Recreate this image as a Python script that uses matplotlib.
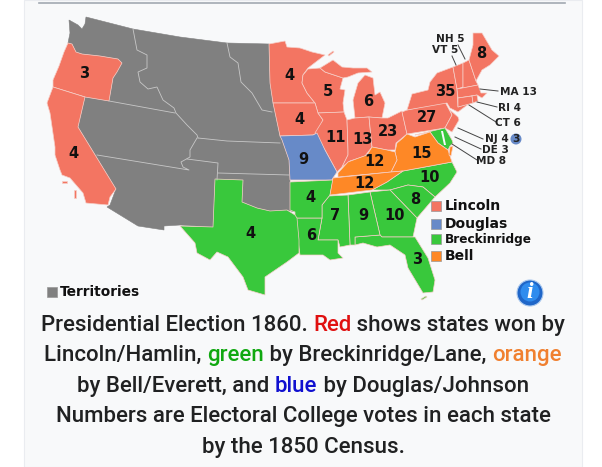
import matplotlib
matplotlib.use('Agg')
import matplotlib.pyplot as plt
from matplotlib.patches import Polygon, Rectangle, Circle

# outlines, x/y in map units (same as picture pixels)
territories = [(69,20),(78,25),(82,29),(85,24),(86,17),(133,29),(180,37),(227,43),(269,44),(270,83),(273,103),(280,136),(282,140),
               (289,160),(290,180),(290,210),(295,212),(287,210),(270,211),(257,208),(242,202),(243,180),(215,179),
               (213,227),(180,225),(164,226),(164,230),(138,226),(107,207),(110,205),(116,189),(78,127),(85,97),
               (109,101),(113,78),(122,63),(118,59),(100,56),(82,54),(76,52),(72,44),(68,43),(70,33)]
oregon = [(68,43),(72,44),(76,52),(82,54),(100,56),(118,59),(122,63),(117,72),(113,78),(109,101),(85,97),(53,87),
          (53,80),(59,66),(64,52)]
california = [(53,87),(85,97),(78,127),(116,189),(110,197),(108,205),(86,203),(83,193),(70,178),(62,175),(60,170),
              (55,155),(55,147),(50,113),(47,103)]
channel_islands = [(62,181),(67,181),(67,183),(62,183)]
catalina = [(74,190),(76,190),(76,198),(74,198)]
minnesota = [(269,44),(285,41),(287,47),(300,48),(312,52),(325,55),(308,68),(303,75),(302,83),(307,93),(315,103),(273,103),(270,83)]
isle_royale = [(328,55),(333,51),(334,52),(329,56)]
wisconsin = [(308,69),(320,68),(325,72),(343,78),(340,89),(345,90),(343,103),(344,112),(318,113),(315,103),(307,93),(302,83),(303,75)]
michigan_up = [(320,68),(333,60),(342,67),(353,68),(367,68),(372,72),(358,73),(348,77),(343,78),(325,72)]
michigan_lp = [(355,118),(353,100),(358,83),(365,75),(373,78),(375,95),(380,92),(385,103),(382,118),(368,117)]
iowa = [(273,103),(315,103),(318,113),(323,120),(317,133),(313,135),(280,136)]
illinois = [(318,113),(344,112),(347,120),(348,150),(348,155),(342,167),(337,172),(325,150),(315,133),(323,120)]
indiana = [(347,120),(355,118),(369,117),(372,147),(365,156),(350,161),(342,167),(348,155),(348,150)]
ohio = [(369,117),(382,118),(388,118),(402,111),(407,134),(396,143),(395,150),(387,150),(372,147)]
pennsylvania = [(402,112),(407,110),(445,102),(452,115),(445,128),(407,134)]
new_york = [(453,67),(457,89),(458,107),(470,103),(458,112),(450,108),(447,103),(407,110),(412,94),(428,90),(430,82),(437,73)]
vermont = [(453,67),(463,63),(463,87),(457,89)]
new_hampshire = [(463,63),(469,60),(476,81),(478,85),(463,88)]
maine = [(469,60),(473,45),(473,33),(482,33),(492,50),(499,56),(490,65),(482,70),(476,81)]
massachusetts = [(457,89),(478,85),(481,93),(487,93),(482,98),(477,95),(458,98)]
connecticut = [(458,98),(472,96),(473,103),(458,107)]
rhode_island = [(472,96),(477,95),(478,101),(473,103)]
new_jersey = [(450,110),(458,117),(459,120),(452,132),(445,128),(452,115)]
delaware_maryland = [(415,135),(445,128),(452,140),(453,143),(450,146),(448,150),(438,143),(430,132)]
chesapeake = [(441,131),(443,131),(446,145),(444,145)]
eastern_shore = [(450,147),(453,146),(451,156),(449,155)]
virginia = [(395,152),(397,143),(403,138),(407,134),(415,137),(430,132),(438,143),(448,150),(452,162),(403,171),(391,172),(397,160)]
kentucky = [(338,173),(348,162),(367,155),(372,147),(387,150),(395,152),(397,160),(391,172),(338,177)]
tennessee = [(333,178),(391,172),(403,171),(387,182),(372,190),(330,195)]
north_carolina = [(403,171),(452,162),(457,172),(450,183),(435,197),(423,187),(408,185),(390,190),(372,190),(387,182)]
south_carolina = [(390,190),(408,185),(423,187),(435,197),(417,218)]
georgia = [(370,192),(390,190),(417,218),(413,237),(382,237),(380,235)]
florida = [(355,237),(380,235),(382,237),(413,237),(415,237),(428,258),(435,280),(433,292),(423,293),(408,268),(405,255),(390,245),
           (377,247),(363,243),(355,245)]
florida_keys = [(421,299),(426,296),(427,297),(422,300)]
alabama = [(348,195),(370,192),(380,235),(355,237),(355,245),(350,245)]
mississippi = [(329,196),(348,195),(350,245),(340,247),(338,240),(318,240),(322,218),(322,205)]
louisiana = [(295,218),(322,218),(318,240),(338,240),(338,253),(343,258),(330,260),(323,255),(300,255),(298,240)]
arkansas = [(290,182),(333,180),(330,195),(322,205),(322,218),(295,218),(295,212),(290,210)]
missouri = [(280,136),(313,135),(317,133),(325,150),(337,172),(333,178),(330,185),(333,180),(290,180),(289,160),(282,140)]
texas = [(215,179),(243,180),(242,202),(257,208),(270,211),(287,210),(295,215),(297,218),(299,240),(299,253),(287,262),
         (265,277),(265,295),(248,290),(243,277),(228,257),(217,252),(210,260),(197,253),(195,243),(180,226),(213,227)]

lincoln_states = [oregon, california, channel_islands, catalina, minnesota, isle_royale, wisconsin, michigan_up, michigan_lp,
                  iowa, illinois, indiana, ohio, pennsylvania, new_york, vermont, new_hampshire, maine, massachusetts,
                  connecticut, rhode_island, new_jersey]
douglas_states = [missouri]
breck_states = [delaware_maryland, north_carolina, south_carolina, georgia, florida, florida_keys, alabama, mississippi,
                louisiana, arkansas, texas]
bell_states = [virginia, kentucky, tennessee, eastern_shore]

# border lines inside the territories
terr_borders = [
    [(133,29),(137,50),(147,55),(147,68),(138,72),(140,82),(148,89),(157,87),(163,100),(174,108),(176,113),(187,125),(197,135),(198,138)],
    [(109,101),(175,113)],
    [(198,138),(227,141),(280,143)],
    [(227,43),(230,57),(238,63),(241,82),(252,93),(262,110),(272,112)],
    [(197,138),(190,150),(190,157),(181,162),(183,167),(189,170),(97,155)],
    [(187,159),(218,163),(217,180)],
    [(218,173),(289,175)],
]

vote_labels = ['3','4','4','5','6','4','35','27','23','11','13','9','12','15','12','10','4','8','7','9','10','6','4','3','8']
vote_x = [84,73,289,328,368,299,445,427,388,336,362,303,375,422,364,430,310,415,335,363,395,311,250,417,481]
vote_y = [73,153,75,91,101,119,91,118,131,138,139,160,162,154,184,177,198,199,216,215,216,235,234,259,53]

small_labels = ['NH 5','VT 5','MA 13','RI 4','CT 6','NJ 4','DE 3','MD 8']
small_x = [450,445,518,510,508,497,495,491]
small_y = [39,50,92,108,123,139,150,161]
leaders = [[(458,45),(465,59)],[(452,56),(456,65)],[(480,89),(498,91)],[(477,102),(497,107)],[(469,105),(496,122)],
           [(458,128),(483,139)],[(455,137),(481,149)],[(452,144),(477,160)]]

legend_names = ['Lincoln','Douglas','Breckinridge','Bell']
legend_y = [206,224,239,256]
legend_size = [10.1, 10, 8.7, 10]

RED = '#f37562'
BLUE = '#678ac8'
GREEN = '#39c83c'
ORANGE = '#fe8826'
GRAY = '#808080'
PANEL = '#f8f9fa'

plt.rcParams['font.family'] = 'DejaVu Sans'

fig = plt.figure(figsize=(6.02, 4.67), dpi=100, facecolor='white')
ax = fig.add_axes([0, 0, 1, 1])
ax.set_xlim(0, 602)
ax.set_ylim(467, 0)
ax.axis('off')

ax.add_patch(Rectangle((24, 0), 558, 467, fc=PANEL, ec='#eaecf0', lw=0.8))
ax.plot([39, 565], [3, 3], color='#a2a9b1', lw=1.2)


def draw_states(states, color):
    for s in states:
        ax.add_patch(Polygon(s, closed=True, fc=color, ec='#f6cfc8', lw=0.5, joinstyle='round'))


ax.add_patch(Polygon(territories, closed=True, fc=GRAY, ec=GRAY, lw=0.4))
for line in terr_borders:
    ax.plot([p[0] for p in line], [p[1] for p in line], color='#c8c8c8', lw=0.6)
draw_states(lincoln_states, RED)
draw_states(douglas_states, BLUE)
draw_states(breck_states, GREEN)
draw_states(bell_states, ORANGE)
ax.add_patch(Polygon(chesapeake, closed=True, fc=PANEL, ec='none'))

for label, x, y in zip(vote_labels, vote_x, vote_y):
    ax.text(x, y, label, fontsize=10.5, fontweight='bold', ha='center', va='center', color='#111111')

for line in leaders:
    ax.plot([p[0] for p in line], [p[1] for p in line], color='#444444', lw=0.7)
for label, x, y in zip(small_labels, small_x, small_y):
    ax.text(x, y, label, fontsize=7.6, fontweight='bold', ha='center', va='center', color='#222222')

# the blue "3" bubble beside NJ
ax.add_patch(Circle((516, 139), 5.5, fc=BLUE, ec='none'))
ax.text(516, 139, '3', fontsize=7.6, fontweight='bold', ha='center', va='center', color='#222222')

for name, y, size, color in zip(legend_names, legend_y, legend_size, [RED, BLUE, GREEN, ORANGE]):
    ax.add_patch(Rectangle((431, y - 5), 9.5, 9.5, fc=color, ec='#999999', lw=0.5))
    ax.text(445, y, name, fontsize=size, fontweight='bold', ha='left', va='center', color='#111111')

ax.add_patch(Rectangle((47, 287), 9.5, 9.5, fc=GRAY, ec='#999999', lw=0.5))
ax.text(60, 292, 'Territories', fontsize=9.9, fontweight='bold', ha='left', va='center', color='#111111')

# info icon
ax.add_patch(Circle((530, 293), 13, fc='#1f66c8', ec='#a9c8ee', lw=0.8))
ax.add_patch(Circle((530, 292), 9.5, fc='#2f8cee', ec='none'))
ax.text(530, 293, 'i', fontsize=17, fontweight='bold', fontstyle='italic', family='Liberation Serif',
        ha='center', va='center', color='white')

# caption, line by line since some words have their own colour
caption = [
    [('Presidential Election 1860. ', '#202122'), ('Red', '#e01010'), (' shows states won by', '#202122')],
    [('Lincoln/Hamlin, ', '#202122'), ('green', '#10a810'), (' by Breckinridge/Lane, ', '#202122'), ('orange', '#f08030')],
    [('by Bell/Everett, and ', '#202122'), ('blue', '#1010d0'), (' by Douglas/Johnson', '#202122')],
    [('Numbers are Electoral College votes in each state', '#202122')],
    [('by the 1850 Census.', '#202122')],
]
caption_y = [323, 353, 384, 414, 445]

fig.canvas.draw()
renderer = fig.canvas.get_renderer()
for pieces, y in zip(caption, caption_y):
    arts = [ax.text(0, y, t, fontsize=16, family='Roboto', fontweight=500, color=c, ha='left', va='center_baseline') for t, c in pieces]
    widths = []
    for a, (t, c) in zip(arts, pieces):
        # trailing/leading spaces are not measured, so measure with a guard character
        a.set_text('|' + t + '|')
        w = a.get_window_extent(renderer).width
        a.set_text('||')
        w -= a.get_window_extent(renderer).width
        a.set_text(t)
        widths.append(w)
    x = 303 - sum(widths) / 2
    for a, w, (t, c) in zip(arts, widths, pieces):
        lead = len(t) - len(t.lstrip(' '))
        a.set_x(x)
        if lead:
            a.set_text('\u00a0' * lead + t.lstrip(' '))
        x += w

fig.savefig('out.png', dpi=100, facecolor='white')
